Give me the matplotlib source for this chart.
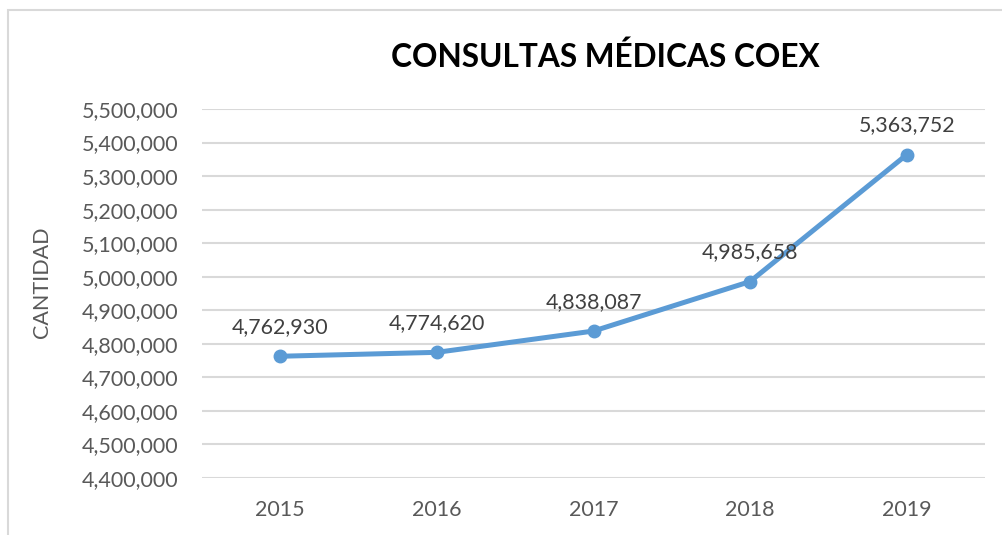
import matplotlib.pyplot as plt
from matplotlib.patches import Rectangle
from matplotlib.ticker import FuncFormatter

years = ["2015", "2016", "2017", "2018", "2019"]
consultas = [4762930, 4774620, 4838087, 4985658, 5363752]
y_ticks = [4400000, 4500000, 4600000, 4700000, 4800000, 4900000,
           5000000, 5100000, 5200000, 5300000, 5400000, 5500000]

plt.rcParams['font.family'] = ['Lato', 'DejaVu Sans']

fig = plt.figure(figsize=(10.02, 5.35), dpi=100)
fig.patch.set_facecolor('white')

# chart border (Excel style box)
fig.patches.append(Rectangle((8/1002, -0.1), 1.2, 1 - 10/535 + 0.1,
                             transform=fig.transFigure, fill=False,
                             edgecolor='#D9D9D9', linewidth=1.5))

ax = fig.add_axes([202/1002, 1 - 478/535, (985 - 202)/1002, (478 - 109)/535])
x = list(range(len(years)))
ax.plot(x, consultas, color='#5B9BD5', linewidth=3.6, marker='o',
        markersize=9, solid_capstyle='round', zorder=3)

for xi, v in zip(x, consultas):
    ax.annotate(f"{v:,}", (xi, v), xytext=(0, 14), textcoords='offset points',
                ha='center', va='bottom', fontsize=15.4, color='#404040', zorder=4)

ax.set_xlim(-0.5, len(years) - 0.5)
ax.set_ylim(4400000, 5500000)
ax.set_yticks(y_ticks)
ax.yaxis.set_major_formatter(FuncFormatter(lambda v, p: f"{int(v):,}"))
ax.set_xticks(x)
ax.set_xticklabels(years)
ax.grid(axis='y', color='#D9D9D9', linewidth=1.5)
ax.set_axisbelow(True)
for s in ax.spines.values():
    s.set_visible(False)
ax.tick_params(axis='both', length=0, labelsize=15.5, labelcolor='#595959')
ax.tick_params(axis='y', pad=17)
ax.tick_params(axis='x', pad=16)

fig.text(42/1002, 1 - 282/535, "CANTIDAD", rotation=90, ha='center', va='center',
         fontsize=15.5, color='#595959')
fig.text(605/1002, 1 - 57/535, "CONSULTAS MÉDICAS COEX", ha='center', va='center',
         fontsize=22.8, fontweight='bold', color='black')

fig.savefig('out.png', dpi=100)
